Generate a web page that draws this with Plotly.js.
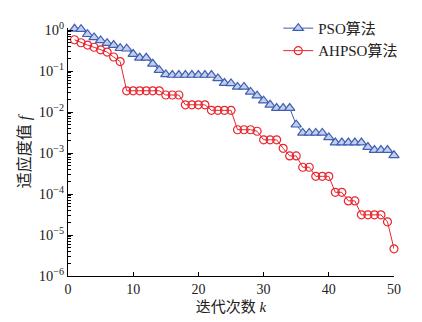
<!DOCTYPE html>
<html>
<head>
<meta charset="utf-8">
<script src="https://cdn.plot.ly/plotly-3.0.1.min.js"></script>
<style>html,body{margin:0;padding:0;background:#fff;}#chart{width:422px;height:322px;}</style>
</head>
<body>
<div id="chart"></div>
<script>
const iterations = [1,2,3,4,5,6,7,8,9,10,11,12,13,14,15,16,17,18,19,20,21,22,23,24,25,26,27,28,29,30,31,32,33,34,35,36,37,38,39,40,41,42,43,44,45,46,47,48,49,50];
const psoValues = [1.07,1.05,0.79,0.66,0.56,0.48,0.43,0.36,0.35,0.26,0.21,0.21,0.15,0.105,0.083,0.08,0.08,0.08,0.08,0.08,0.08,0.08,0.066,0.051,0.05,0.041,0.041,0.031,0.025,0.019,0.015,0.0125,0.0125,0.0125,0.0049,0.0031,0.0031,0.0031,0.0031,0.0024,0.0018,0.0018,0.0018,0.0018,0.0018,0.0014,0.00118,0.00118,0.00118,0.00088];
const ahpsoValues = [0.58,0.49,0.43,0.38,0.33,0.29,0.22,0.17,0.033,0.033,0.033,0.033,0.033,0.033,0.026,0.026,0.026,0.015,0.015,0.015,0.015,0.011,0.011,0.011,0.011,0.0037,0.0037,0.0037,0.0034,0.0021,0.0021,0.0021,0.0013,0.00085,0.00085,0.00045,0.00045,0.00027,0.00027,0.00027,0.00011,0.00011,0.000068,0.000068,0.000031,0.000031,0.000031,0.000031,0.000021,0.0000046];
const seriesNames = ['PSO算法', 'AHPSO算法'];
const yTickVals = [1e-6,1e-5,1e-4,1e-3,1e-2,1e-1,1];
const yTickText = ['10<sup>−6</sup>','10<sup>−5</sup>','10<sup>−4</sup>','10<sup>−3</sup>','10<sup>−2</sup>','10<sup>−1</sup>','10<sup>0</sup>'];
const xTickVals = [0,10,20,30,40,50];

const serif = 'Liberation Serif, "Noto Sans CJK SC", serif';
const traces = [
  {x: iterations, y: psoValues, name: seriesNames[0], mode: 'lines+markers', cliponaxis: false,
   line: {color: '#3f5fb2', width: 1},
   marker: {symbol: 'triangle-up', size: 9, color: '#c3cfec', line: {color: '#3f5fb2', width: 1.2}}},
  {x: iterations, y: ahpsoValues, name: seriesNames[1], mode: 'lines+markers', cliponaxis: false,
   line: {color: '#e8262e', width: 1},
   marker: {symbol: 'circle-open', size: 8, color: '#e8262e', line: {width: 1.2}}}
];
const layout = {
  width: 422, height: 322,
  margin: {l: 68, r: 28, t: 16, b: 46},
  paper_bgcolor: '#fff', plot_bgcolor: '#fff',
  font: {family: serif, size: 14, color: '#222'},
  showlegend: true,
  legend: {x: 0.645, y: 1.065, xanchor: 'left', yanchor: 'top', bgcolor: 'rgba(0,0,0,0)',
           font: {family: serif, size: 15, color: '#222'}, tracegroupgap: 0},
  xaxis: {range: [0, 50], tickmode: 'array', tickvals: xTickVals,
          ticks: 'inside', ticklen: 4, tickcolor: '#000', showline: true, linecolor: '#000', linewidth: 1,
          showgrid: false, zeroline: false, mirror: false,
          tickfont: {family: serif, size: 14, color: '#222'},
          title: {text: '迭代次数 <i>k</i>', font: {family: serif, size: 15, color: '#222'}, standoff: 5}},
  yaxis: {type: 'log', range: [-6, 0.05], tickmode: 'array', tickvals: yTickVals, ticktext: yTickText,
          ticks: 'inside', ticklen: 5, tickcolor: '#000', showline: true, linecolor: '#000', linewidth: 1,
          showgrid: false, zeroline: false, mirror: false,
          minor: {ticks: 'inside', ticklen: 3, tickcolor: '#000', tickmode: 'linear', dtick: 'D1', showgrid: false},
          tickfont: {family: serif, size: 14.5, color: '#222'},
          title: {text: '适应度值 <i>f</i>', font: {family: serif, size: 16, color: '#222'}, standoff: 4}}
};
Plotly.newPlot('chart', traces, layout, {displayModeBar: false, staticPlot: true});
</script>
</body>
</html>
